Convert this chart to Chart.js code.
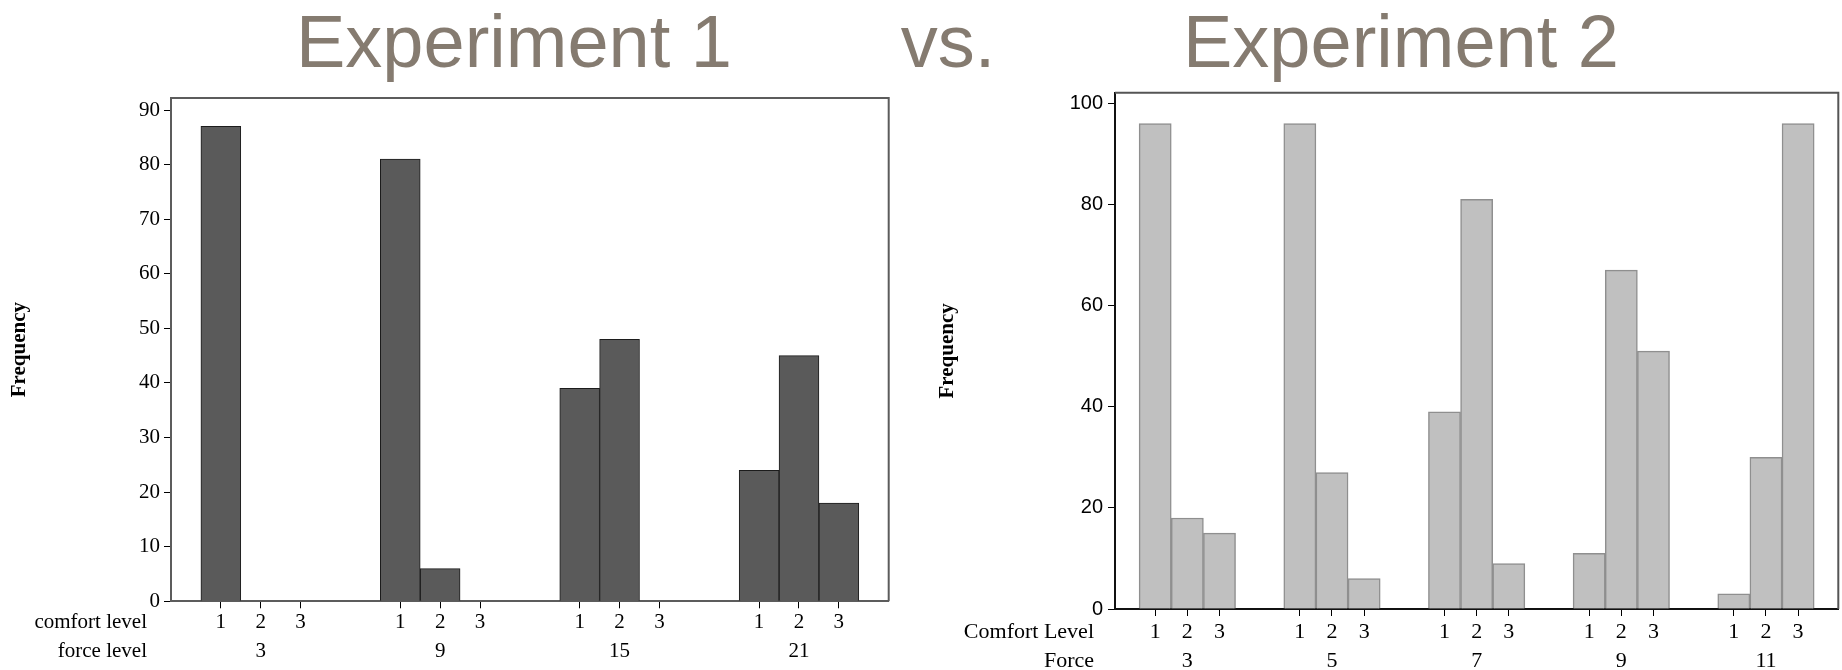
<!DOCTYPE html>
<html>
<head>
<meta charset="utf-8">
<title>Experiment 1 vs. Experiment 2</title>
<script src="https://cdn.jsdelivr.net/npm/chart.js@4.4.1/dist/chart.umd.min.js"></script>
<style>
  html, body { margin: 0; padding: 0; background: #fff; }
  #pagina { position: relative; width: 1842px; height: 670px; overflow: hidden; }
  canvas { position: absolute; top: 0; }
  #grafico1 { left: 0; }
  #grafico2 { left: 900px; }
  .titulo {
    position: absolute; top: 4.5px;
    font-family: 'Liberation Sans', Arial, sans-serif;
    font-size: 74px; line-height: 74px;
    color: #857b70; white-space: nowrap;
    transform: translateX(-50%);
    pointer-events: none;
  }
</style>
</head>
<body>
<div id="pagina">
  <canvas id="grafico1" width="900" height="670"></canvas>
  <canvas id="grafico2" width="942" height="670"></canvas>
  <div class="titulo" style="left:514px">Experiment 1</div>
  <div class="titulo" style="left:948px">vs.</div>
  <div class="titulo" style="left:1401px">Experiment 2</div>
</div>
<script>
// niveis de conforto (iguais nos dois experimentos)
const conforto = ['1', '2', '3'];

// Experimento 1
const forcaExp1 = ['3', '9', '15', '21'];
const exp1Conforto1 = [87, 81, 39, 24];
const exp1Conforto2 = [0, 6, 48, 45];
const exp1Conforto3 = [0, 0, 0, 18];

// Experimento 2
const forcaExp2 = ['3', '5', '7', '9', '11'];
const exp2Conforto1 = [96, 96, 39, 11, 3];
const exp2Conforto2 = [18, 27, 81, 67, 30];
const exp2Conforto3 = [15, 6, 9, 51, 96];

// cada grupo de forca ocupa 4.5 "colunas" (3 barras + espaco)
const PASSO_GRUPO = 4.5;

function montarPontos(valores, nivel) {
    return valores.map((v, g) => ({ x: g * PASSO_GRUPO + nivel, y: v }));
}

function montarTicks(forcas) {
    const lista = [];
    forcas.forEach((f, g) => {
        conforto.forEach((c, i) => {
            lista.push({ value: g * PASSO_GRUPO + i + 1, label: [c, i == 1 ? f : ''] });
        });
    });
    return lista;
}

// textos "comfort level" / "force level" a esquerda dos ticks
const rotulosLinhas = {
    id: 'rotulosLinhas',
    afterDraw(chart, args, opts) {
        const eixo = chart.scales.x;
        const fonte = eixo.options.ticks.font;
        const alturaLinha = fonte.size * fonte.lineHeight;
        const y0 = eixo.top + eixo.options.grid.tickLength + eixo.options.ticks.padding + alturaLinha / 2;
        const ctx = chart.ctx;
        ctx.save();
        ctx.font = fonte.size + 'px ' + fonte.family;
        ctx.fillStyle = '#000';
        ctx.textAlign = 'right';
        ctx.textBaseline = 'middle';
        opts.textos.forEach((t, i) => ctx.fillText(t, opts.x, y0 + i * alturaLinha));
        ctx.restore();
    }
};

// bordas de cima e da direita da area do grafico
const moldura = {
    id: 'moldura',
    afterDraw(chart, args, opts) {
        const a = chart.chartArea;
        const ctx = chart.ctx;
        ctx.save();
        ctx.strokeStyle = opts.cor;
        ctx.lineWidth = opts.largura;
        ctx.beginPath();
        ctx.moveTo(a.left, a.top);
        ctx.lineTo(a.right, a.top);
        ctx.lineTo(a.right, a.bottom);
        ctx.stroke();
        ctx.restore();
    }
};

function criarGrafico(id, cfg) {
    const ticksX = montarTicks(cfg.forcas);
    const datasets = cfg.series.map(serie => ({
        label: 'Comfort ' + serie.nivel,
        data: montarPontos(serie.valores, serie.nivel),
        backgroundColor: cfg.corBarra,
        borderColor: cfg.corBorda,
        borderWidth: cfg.larguraBorda,
        grouped: false,
        barPercentage: 1,
        categoryPercentage: 1
    }));

    new Chart(document.getElementById(id), {
        type: 'bar',
        data: { datasets: datasets },
        plugins: [rotulosLinhas, moldura],
        options: {
            responsive: false,
            animation: false,
            layout: { padding: { left: 0, top: cfg.topo, right: cfg.direita, bottom: 0 } },
            plugins: {
                legend: { display: false },
                tooltip: { enabled: false },
                rotulosLinhas: { textos: cfg.rotulos, x: cfg.xRotulos },
                moldura: { cor: cfg.corMoldura, largura: 2 }
            },
            scales: {
                x: {
                    type: 'linear',
                    min: -0.25,
                    max: (cfg.forcas.length - 1) * PASSO_GRUPO + 3 + 1.25,
                    offset: false,
                    grid: { drawOnChartArea: false, drawTicks: true, tickLength: 7, color: '#000', offset: false },
                    border: { display: true, color: cfg.corEixo, width: 2 },
                    ticks: {
                        autoSkip: false, maxRotation: 0, minRotation: 0,
                        padding: cfg.paddingX,
                        color: '#000',
                        font: { family: 'Liberation Serif', size: cfg.fonteX, lineHeight: cfg.linhaX },
                        callback: (v, i) => ticksX[i] ? ticksX[i].label : ''
                    },
                    afterBuildTicks: s => { s.ticks = ticksX.map(t => ({ value: t.value })); },
                    afterFit: s => { s.height = cfg.alturaX; }
                },
                y: {
                    type: 'linear',
                    min: 0,
                    max: cfg.maxY,
                    grid: { drawOnChartArea: false, drawTicks: true, tickLength: 7, color: '#000' },
                    border: { display: true, color: cfg.corEixo, width: 2 },
                    ticks: {
                        stepSize: cfg.passoY,
                        includeBounds: false,
                        padding: cfg.paddingY,
                        color: '#000',
                        font: { family: cfg.familiaY, size: cfg.fonteY }
                    },
                    title: {
                        display: true,
                        text: 'Frequency',
                        color: '#000',
                        font: { family: 'Liberation Serif', size: 21, weight: 'bold' },
                        padding: { top: cfg.paddingTitulo, bottom: 0 }
                    },
                    afterFit: s => { s.width = cfg.larguraY; }
                }
            }
        }
    });
}

criarGrafico('grafico1', {
    forcas: forcaExp1,
    series: [
        { nivel: 1, valores: exp1Conforto1 },
        { nivel: 2, valores: exp1Conforto2 },
        { nivel: 3, valores: exp1Conforto3 }
    ],
    corBarra: '#5a5a5a', corBorda: '#1c1c1c', larguraBorda: 1,
    corEixo: '#5c5c5c', corMoldura: '#5c5c5c',
    topo: 98, direita: 11.3, larguraY: 171, alturaX: 68.7,
    maxY: 92.2, passoY: 10, familiaY: 'Liberation Serif', fonteY: 21, paddingY: 4,
    fonteX: 21, linhaX: 1.37, paddingX: 0,
    paddingTitulo: 7.4,
    rotulos: ['comfort level', 'force level'], xRotulos: 147
});

criarGrafico('grafico2', {
    forcas: forcaExp2,
    series: [
        { nivel: 1, valores: exp2Conforto1 },
        { nivel: 2, valores: exp2Conforto2 },
        { nivel: 3, valores: exp2Conforto3 }
    ],
    corBarra: '#c0c0c0', corBorda: '#8f8f8f', larguraBorda: 1.5,
    corEixo: '#111', corMoldura: '#555',
    topo: 92.7, direita: 3.7, larguraY: 215, alturaX: 61,
    maxY: 102.1, passoY: 20, familiaY: 'Liberation Sans', fonteY: 20, paddingY: 5,
    fonteX: 22, linhaX: 1.34, paddingX: 1,
    paddingTitulo: 35.4,
    rotulos: ['Comfort Level', 'Force'], xRotulos: 194
});
</script>
</body>
</html>
